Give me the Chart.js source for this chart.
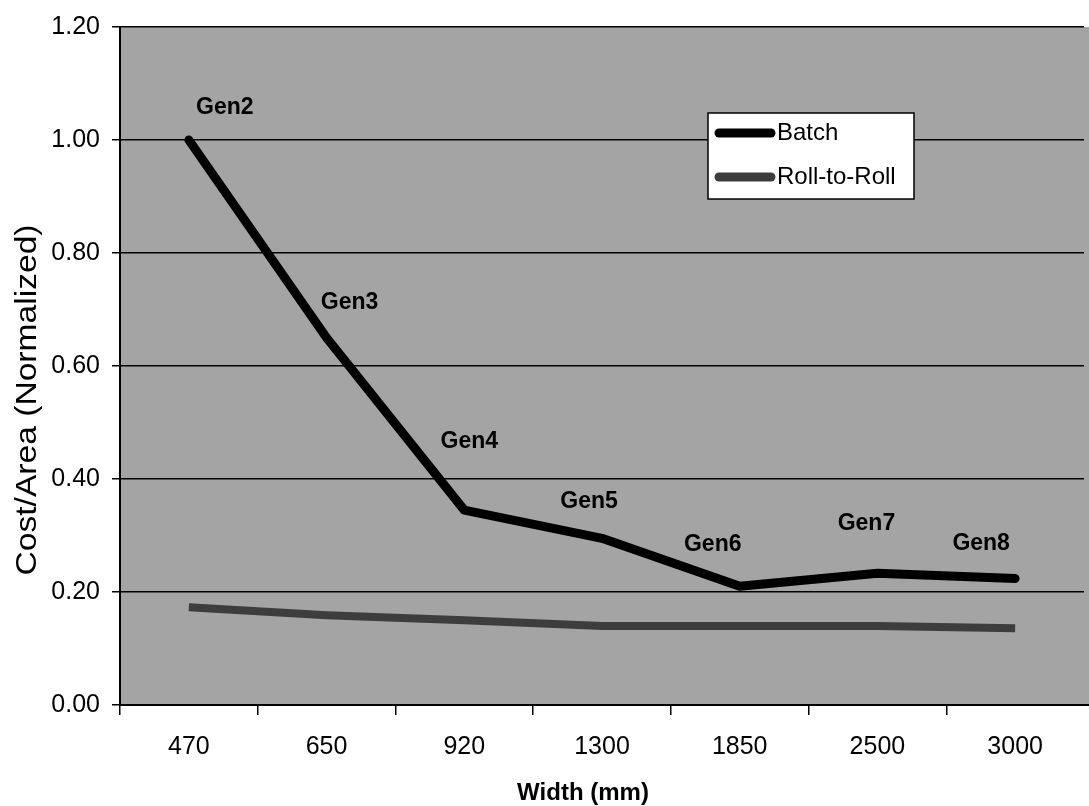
<!DOCTYPE html>
<html>
<head>
<meta charset="utf-8">
<script src="https://cdn.jsdelivr.net/npm/chart.js@4/dist/chart.umd.min.js"></script>
<style>
  html, body { margin: 0; padding: 0; background: #ffffff; }
  #wrap { width: 1089px; height: 806px; }
</style>
</head>
<body>
<div id="wrap"><canvas id="costChart" width="1089" height="806"></canvas></div>
<script>
// --- data ---
const widths = ["470", "650", "920", "1300", "1850", "2500", "3000"];
const genNames = ["Gen2", "Gen3", "Gen4", "Gen5", "Gen6", "Gen7", "Gen8"];
const batchCost = [1.00, 0.65, 0.345, 0.295, 0.21, 0.233, 0.224];
const rollCost = [0.173, 0.159, 0.150, 0.140, 0.140, 0.140, 0.136];
const xTitle = "Width (mm)";
const yTitle = "Cost/Area (Normalized)";

// label offsets from the Batch point (px)
const genOffsets = [[36, -32], [23, -35], [5, -68], [-13, -37], [-27, -42], [-11, -50], [-34, -35]];

const FONT = "'Liberation Sans', Arial, sans-serif";

// gray plot background
const plotBg = {
  id: "plotBg",
  beforeDraw(chart) {
    const { ctx, chartArea: a } = chart;
    ctx.save();
    ctx.fillStyle = "#a4a4a4";
    ctx.fillRect(a.left, a.top, chart.width - a.left, a.bottom - a.top);
    ctx.restore();
  },
  afterDraw(chart) {
    // bottom axis line runs on to the edge
    const { ctx, chartArea: a } = chart;
    ctx.save();
    ctx.strokeStyle = "#000";
    ctx.lineWidth = 2;
    ctx.beginPath();
    ctx.moveTo(a.right, a.bottom);
    ctx.lineTo(chart.width, a.bottom);
    ctx.stroke();
    ctx.restore();
  },
};

// axis titles (slightly stretched like the scan)
const axisTitles = {
  id: "axisTitles",
  afterDraw(chart) {
    const { ctx } = chart;
    ctx.save();
    ctx.fillStyle = "#000";
    ctx.textAlign = "center";
    ctx.textBaseline = "middle";
    ctx.font = "bold 24px " + FONT;
    ctx.fillText(xTitle, 583, 793);
    ctx.translate(28, 400);
    ctx.rotate(-Math.PI / 2);
    ctx.scale(1.12, 1);
    ctx.font = "30px " + FONT;
    ctx.fillText(yTitle, 0, 0);
    ctx.restore();
  },
};

// Gen labels next to the Batch points
const genLabels = {
  id: "genLabels",
  afterDatasetsDraw(chart) {
    const { ctx } = chart;
    const pts = chart.getDatasetMeta(0).data;
    ctx.save();
    ctx.font = "bold 23px " + FONT;
    ctx.fillStyle = "#000";
    ctx.textAlign = "center";
    ctx.textBaseline = "middle";
    pts.forEach((p, i) => {
      ctx.fillText(genNames[i], p.x + genOffsets[i][0], p.y + genOffsets[i][1]);
    });
    ctx.restore();
  },
};

// boxed legend inside the plot
const boxLegend = {
  id: "boxLegend",
  afterDraw(chart) {
    const { ctx } = chart;
    const x = 708, y = 113, w = 206, h = 86;
    ctx.save();
    ctx.fillStyle = "#ffffff";
    ctx.fillRect(x, y, w, h);
    ctx.strokeStyle = "#000";
    ctx.lineWidth = 1.5;
    ctx.strokeRect(x, y, w, h);
    ctx.font = "24px " + FONT;
    ctx.textBaseline = "middle";
    chart.data.datasets.forEach((ds, i) => {
      const ly = y + 20 + i * 44;
      ctx.strokeStyle = ds.borderColor;
      ctx.lineWidth = 9;
      ctx.lineCap = "round";
      ctx.beginPath();
      ctx.moveTo(x + 11, ly);
      ctx.lineTo(x + 63, ly);
      ctx.stroke();
      ctx.fillStyle = "#000";
      ctx.fillText(ds.label, x + 69, ly);
    });
    ctx.restore();
  },
};

new Chart(document.getElementById("costChart"), {
  type: "line",
  data: {
    labels: widths,
    datasets: [
      {
        label: "Batch",
        data: batchCost,
        borderColor: "#000000",
        borderWidth: 9,
        borderJoinStyle: "round",
        borderCapStyle: "round",
        pointRadius: 0,
        tension: 0,
      },
      {
        label: "Roll-to-Roll",
        data: rollCost,
        borderColor: "#3d3d3d",
        borderWidth: 8,
        pointRadius: 0,
        tension: 0,
      },
    ],
  },
  options: {
    responsive: false,
    animation: false,
    layout: { padding: { top: 24, right: 5, left: 0, bottom: 0 } },
    plugins: {
      legend: { display: false },
      tooltip: { enabled: false },
    },
    scales: {
      x: {
        offset: true,
        grid: {
          offset: true,
          drawOnChartArea: false,
          drawTicks: true,
          tickLength: 10,
          // the extra closing grid line (no tick of its own) stays hidden
          color: (c) => (c.tick ? "#000" : "rgba(0,0,0,0)"),
          lineWidth: 1.5,
        },
        border: { color: "#000", width: 2 },
        ticks: { color: "#000", font: { family: FONT, size: 25 }, padding: 17, maxRotation: 0 },
        afterFit(scale) { scale.height = 101; },
      },
      y: {
        min: 0,
        max: 1.2,
        ticks: {
          stepSize: 0.2,
          color: "#000",
          font: { family: FONT, size: 25 },
          padding: 12,
          callback: (v) => v.toFixed(2),
        },
        grid: { color: "#000", lineWidth: 1.5, tickLength: 8 },
        border: { color: "#000", width: 2 },
        afterFit(scale) { scale.width = 120; },
      },
    },
  },
  plugins: [plotBg, genLabels, boxLegend, axisTitles],
});
</script>
</body>
</html>
